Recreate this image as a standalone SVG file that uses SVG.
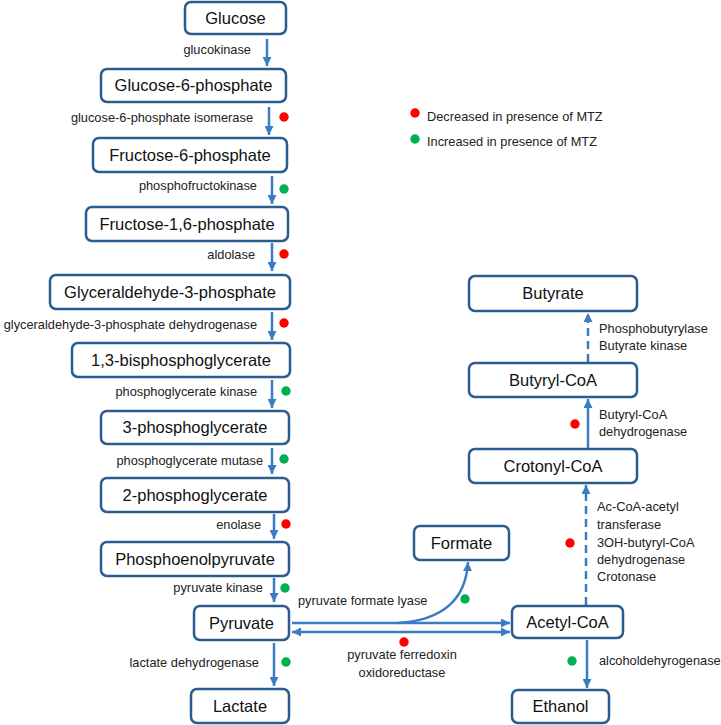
<svg xmlns="http://www.w3.org/2000/svg" width="721" height="725" viewBox="0 0 721 725">
<style>
.box{fill:#fff;stroke:#2b5c8f;stroke-width:2.5}
.nt{font-family:"Liberation Sans",Arial,sans-serif;font-size:16.5px;fill:#111;text-anchor:middle}
.lb{font-family:"Liberation Sans",Arial,sans-serif;font-size:12.8px;fill:#222}
.r{text-anchor:end}
.c{text-anchor:middle}
.ar{stroke:#3a7cc4;stroke-width:2.5;fill:none}
.ds{stroke-dasharray:8 5}
.red{fill:#f00}
.grn{fill:#00b050}
</style>
<defs>
<marker id="ah" viewBox="0 0 10 10" refX="10" refY="5" markerWidth="9" markerHeight="9" markerUnits="userSpaceOnUse" orient="auto-start-reverse">
<path d="M0,0 L10,5 L0,10 z" fill="#3a7cc4"/>
</marker>
</defs>
<rect width="721" height="725" fill="#fff"/>

<g id="connectors">
<line class="ar" x1="267" y1="39" x2="267" y2="66" marker-end="url(#ah)"/>
<line class="ar" x1="269" y1="107" x2="269" y2="135" marker-end="url(#ah)"/>
<line class="ar" x1="272" y1="176" x2="272" y2="204" marker-end="url(#ah)"/>
<line class="ar" x1="272" y1="243" x2="272" y2="271" marker-end="url(#ah)"/>
<line class="ar" x1="272" y1="312" x2="272" y2="340" marker-end="url(#ah)"/>
<line class="ar" x1="272" y1="380" x2="272" y2="408" marker-end="url(#ah)"/>
<line class="ar" x1="272" y1="448" x2="272" y2="474" marker-end="url(#ah)"/>
<line class="ar" x1="274" y1="514" x2="274" y2="539" marker-end="url(#ah)"/>
<line class="ar" x1="274" y1="578" x2="274" y2="602" marker-end="url(#ah)"/>
<line class="ar" x1="274" y1="643" x2="274" y2="686" marker-end="url(#ah)"/>
<line class="ar" x1="292" y1="623" x2="510" y2="623" marker-end="url(#ah)"/>
<line class="ar" x1="292" y1="632" x2="510" y2="632" marker-start="url(#ah)" marker-end="url(#ah)"/>
<path class="ar" d="M398 623 C445 620 466 598 468 562" marker-end="url(#ah)"/>
<line class="ar" x1="587" y1="640" x2="587" y2="688" marker-end="url(#ah)"/>
<line class="ar ds" x1="586" y1="605" x2="586" y2="485" marker-end="url(#ah)"/>
<line class="ar" x1="588" y1="448" x2="588" y2="399" marker-end="url(#ah)"/>
<line class="ar ds" x1="588" y1="362" x2="588" y2="313" marker-end="url(#ah)"/>
</g>

<g id="n-glucose"><rect class="box" x="185" y="2" width="101" height="32" rx="6"/><text class="nt" x="235.5" y="24">Glucose</text></g>
<g id="n-g6p"><rect class="box" x="101" y="69" width="185" height="33" rx="6"/><text class="nt" x="193.5" y="91">Glucose-6-phosphate</text></g>
<g id="n-f6p"><rect class="box" x="93" y="138" width="194" height="34" rx="6"/><text class="nt" x="190" y="161">Fructose-6-phosphate</text></g>
<g id="n-f16p"><rect class="box" x="86" y="207" width="202" height="34" rx="6"/><text class="nt" x="187" y="230">Fructose-1,6-phosphate</text></g>
<g id="n-gap"><rect class="box" x="50" y="275" width="240" height="34" rx="6"/><text class="nt" x="170" y="298">Glyceraldehyde-3-phosphate</text></g>
<g id="n-bpg"><rect class="box" x="72" y="343" width="218" height="34" rx="6"/><text class="nt" x="181" y="366">1,3-bisphosphoglycerate</text></g>
<g id="n-3pg"><rect class="box" x="101" y="411" width="188" height="33" rx="6"/><text class="nt" x="195" y="433">3-phosphoglycerate</text></g>
<g id="n-2pg"><rect class="box" x="101" y="478" width="188" height="34" rx="6"/><text class="nt" x="195" y="501">2-phosphoglycerate</text></g>
<g id="n-pep"><rect class="box" x="101" y="542" width="188" height="34" rx="6"/><text class="nt" x="195" y="565">Phosphoenolpyruvate</text></g>
<g id="n-pyruvate"><rect class="box" x="194" y="606" width="95" height="34" rx="6"/><text class="nt" x="241.5" y="629">Pyruvate</text></g>
<g id="n-lactate"><rect class="box" x="191" y="689" width="98" height="34" rx="6"/><text class="nt" x="240" y="712">Lactate</text></g>
<g id="n-formate"><rect class="box" x="414" y="526" width="95" height="34" rx="6"/><text class="nt" x="461.5" y="549">Formate</text></g>
<g id="n-acetylcoa"><rect class="box" x="512" y="606" width="111" height="32" rx="6"/><text class="nt" x="567.5" y="628">Acetyl-CoA</text></g>
<g id="n-ethanol"><rect class="box" x="512" y="690" width="97" height="33" rx="6"/><text class="nt" x="560.5" y="712">Ethanol</text></g>
<g id="n-crotonylcoa"><rect class="box" x="469" y="449" width="168" height="34" rx="6"/><text class="nt" x="553" y="472">Crotonyl-CoA</text></g>
<g id="n-butyrylcoa"><rect class="box" x="469" y="363" width="168" height="34" rx="6"/><text class="nt" x="553" y="386">Butyryl-CoA</text></g>
<g id="n-butyrate"><rect class="box" x="469" y="276" width="168" height="35" rx="6"/><text class="nt" x="553" y="299">Butyrate</text></g>

<g id="labels">
<text class="lb r" x="251" y="54">glucokinase</text>
<text class="lb r" x="253" y="122">glucose-6-phosphate isomerase</text>
<text class="lb r" x="257" y="190">phosphofructokinase</text>
<text class="lb r" x="255" y="259">aldolase</text>
<text class="lb r" x="257" y="329">glyceraldehyde-3-phosphate dehydrogenase</text>
<text class="lb r" x="257" y="396">phosphoglycerate kinase</text>
<text class="lb r" x="263" y="465">phosphoglycerate mutase</text>
<text class="lb r" x="261" y="529">enolase</text>
<text class="lb r" x="263" y="592">pyruvate kinase</text>
<text class="lb r" x="259" y="667">lactate dehydrogenase</text>
<text class="lb" x="298" y="605">pyruvate formate lyase</text>
<text class="lb c" x="402" y="659">pyruvate ferredoxin</text>
<text class="lb c" x="402" y="677">oxidoreductase</text>
<text class="lb" x="599" y="665">alcoholdehyrogenase</text>
<text class="lb" x="597" y="511">Ac-CoA-acetyl</text>
<text class="lb" x="597" y="529">transferase</text>
<text class="lb" x="597" y="547">3OH-butyryl-CoA</text>
<text class="lb" x="597" y="564">dehydrogenase</text>
<text class="lb" x="597" y="581">Crotonase</text>
<text class="lb" x="599" y="419">Butyryl-CoA</text>
<text class="lb" x="599" y="436">dehydrogenase</text>
<text class="lb" x="599" y="333">Phosphobutyrylase</text>
<text class="lb" x="599" y="350">Butyrate kinase</text>
</g>

<g id="dots">
<circle class="red" cx="284" cy="117" r="4.7"/>
<circle class="grn" cx="284" cy="189" r="4.7"/>
<circle class="red" cx="284" cy="254" r="4.7"/>
<circle class="red" cx="284" cy="323" r="4.7"/>
<circle class="grn" cx="286" cy="391" r="4.7"/>
<circle class="grn" cx="284" cy="459" r="4.7"/>
<circle class="red" cx="286" cy="524" r="4.7"/>
<circle class="grn" cx="285" cy="588" r="4.7"/>
<circle class="grn" cx="286" cy="662" r="4.7"/>
<circle class="grn" cx="465" cy="599" r="4.7"/>
<circle class="red" cx="404" cy="642" r="4.7"/>
<circle class="grn" cx="572" cy="661" r="4.7"/>
<circle class="red" cx="570" cy="543" r="4.7"/>
<circle class="red" cx="575" cy="424" r="4.7"/>
</g>

<g id="legend">
<circle class="red" cx="415" cy="113" r="4.7"/>
<text class="lb" x="427" y="121">Decreased in presence of MTZ</text>
<circle class="grn" cx="415" cy="139" r="4.7"/>
<text class="lb" x="427" y="146">Increased in presence of MTZ</text>
</g>
</svg>
